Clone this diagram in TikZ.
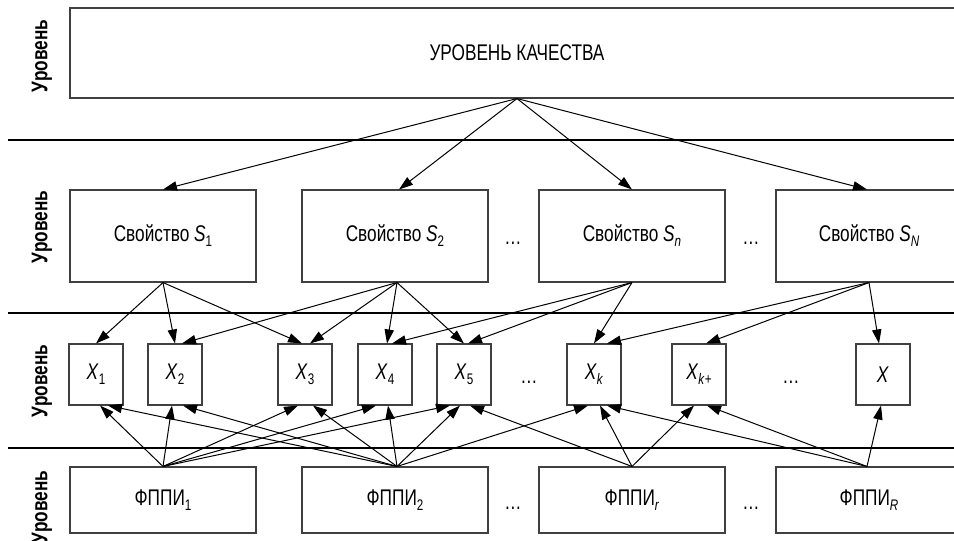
\documentclass[tikz,border=0pt]{standalone}
\usepackage{fontspec}
\setmainfont{Liberation Sans}[FakeStretch=0.76]
\usetikzlibrary{arrows.meta}
\newcommand{\lsub}[1]{\raisebox{-3.8pt}{\fontsize{11.5}{13}\selectfont #1}}
\begin{document}
\begin{tikzpicture}[x=0.75pt,y=-0.75pt,
  font=\fontsize{17}{20}\selectfont,
  bigbox/.style={draw=black!75, line width=0.8pt, inner sep=0pt, minimum width=670.5pt, minimum height=67.5pt},
  sbox/.style={draw=black!75, line width=0.8pt, inner sep=0pt, minimum width=139.5pt, minimum height=69pt},
  xbox/.style={draw=black!75, line width=0.8pt, inner sep=0pt, minimum width=40.5pt, minimum height=45.75pt},
  fbox/.style={draw=black!75, line width=0.8pt, inner sep=0pt, minimum width=139.5pt, minimum height=49.5pt},
  lvl/.style={rotate=90, inner sep=0pt, font=\fontsize{17}{20}\selectfont\bfseries},
  dots/.style={anchor=base, inner sep=0pt},
  sep/.style={line width=2.2pt, black},
  arr/.style={line width=0.75pt, -{Triangle[length=10.5pt,width=7pt]}}]
\useasboundingbox (0,0) rectangle (954,540);
\clip (0,0) rectangle (954,540);
% separators
\draw[sep] (8,140) -- (980,140);
\draw[sep] (8,313) -- (980,313);
\draw[sep] (8,448) -- (980,448);
% level labels
\node[lvl] (L1) at (42,56) {Уровень};
\node[lvl] (L2) at (42,227) {Уровень};
\node[lvl] (L3) at (42,381) {Уровень};
\node[lvl] (L4) at (42,507) {Уровень};
% top
\node[bigbox] (Q) at (517,53) {УРОВЕНЬ КАЧЕСТВА};
% properties
\node[sbox] (S1) at (163,236) {Свойство \textit{S}\lsub{1}};
\node[sbox] (S2) at (395,236) {Свойство \textit{S}\lsub{2}};
\node[sbox] (Sn) at (632,236) {Свойство \textit{S}\lsub{\textit{n}}};
\node[sbox] (SN) at (869,236) {Свойство \textit{S}\lsub{\textit{N}}};
\node[dots] (d1) at (513,244) {…};
\node[dots] (d2) at (751,244) {…};
% X row
\node[xbox] (X1) at (96,374.5) {\textit{X}\lsub{1}};
\node[xbox] (X2) at (175,374.5) {\textit{X}\lsub{2}};
\node[xbox] (X3) at (305,374.5) {\textit{X}\lsub{3}};
\node[xbox] (X4) at (385,374.5) {\textit{X}\lsub{4}};
\node[xbox] (X5) at (464,374.5) {\textit{X}\lsub{5}};
\node[xbox] (Xk) at (594,374.5) {\textit{X}\lsub{\textit{k}}};
\node[xbox] (Xkp) at (699,374.5) {\textit{X}\lsub{\textit{k}+}};
\node[xbox] (XX) at (883,374.5) {\textit{X}};
\node[dots] (d3) at (529,383) {…};
\node[dots] (d4) at (791,383) {…};
% bottom row
\node[fbox] (F1) at (163,500) {ФППИ\lsub{1}};
\node[fbox] (F2) at (395,500) {ФППИ\lsub{2}};
\node[fbox] (Fr) at (632,500) {ФППИ\lsub{\textit{r}}};
\node[fbox] (FR) at (869,500) {ФППИ\lsub{\textit{R}}};
\node[dots] (d5) at (513,509) {…};
\node[dots] (d6) at (751,509) {…};
% top to properties
\draw[arr] (Q.south) -- (S1.north);
\draw[arr] (Q.south) -- ([xshift=3pt]S2.north);
\draw[arr] (Q.south) -- (Sn.north);
\draw[arr] (Q.south) -- ([xshift=-1.5pt]SN.north);
% properties to X
\draw[arr] (S1.south) -- (X1.north);
\draw[arr] (S1.south) -- (X2.north);
\draw[arr] (S1.south) -- ([xshift=-2.25pt]X3.north);
\draw[arr] ([xshift=1.5pt]S2.south) -- ([xshift=5.25pt]X2.north);
\draw[arr] ([xshift=1.5pt]S2.south) -- ([xshift=3.75pt]X3.north);
\draw[arr] ([xshift=1.5pt]S2.south) -- ([xshift=1.5pt]X4.north);
\draw[arr] ([xshift=1.5pt]S2.south) -- (X5.north);
\draw[arr] (Sn.south) -- ([xshift=5.25pt]X4.north);
\draw[arr] (Sn.south) -- ([xshift=3pt]X5.north);
\draw[arr] (Sn.south) -- (Xk.north);
\draw[arr] (SN.south) -- ([xshift=9.75pt]Xk.north);
\draw[arr] (SN.south) -- ([xshift=5.25pt]Xkp.north);
\draw[arr] (SN.south) -- ([xshift=-3pt]XX.north);
% bottom to X
\draw[arr] (F1.north) -- ([xshift=3pt]X1.south);
\draw[arr] (F1.north) -- ([xshift=-2.25pt]X2.south);
\draw[arr] (F1.north) -- ([xshift=-5.25pt]X3.south);
\draw[arr] (F1.north) -- ([xshift=-6.75pt]X4.south);
\draw[arr] (F1.north) -- ([xshift=-10.5pt]X5.south);
\draw[arr] ([xshift=1.5pt]F2.north) -- ([xshift=9pt]X1.south);
\draw[arr] ([xshift=1.5pt]F2.north) -- ([xshift=6pt]X2.south);
\draw[arr] ([xshift=1.5pt]F2.north) -- ([xshift=6pt]X3.south);
\draw[arr] ([xshift=1.5pt]F2.north) -- ([xshift=2.25pt]X4.south);
\draw[arr] ([xshift=1.5pt]F2.north) -- ([xshift=-3pt]X5.south);
\draw[arr] ([xshift=1.5pt]F2.north) -- ([xshift=-4.5pt]Xk.south);
\draw[arr] (Fr.north) -- ([xshift=4.5pt]X5.south);
\draw[arr] (Fr.north) -- ([xshift=4.5pt]Xk.south);
\draw[arr] (Fr.north) -- ([xshift=-3.75pt]Xkp.south);
\draw[arr] ([xshift=-1.5pt]FR.north) -- ([xshift=9.75pt]Xk.south);
\draw[arr] ([xshift=-1.5pt]FR.north) -- ([xshift=6pt]Xkp.south);
\draw[arr] ([xshift=-1.5pt]FR.north) -- ([xshift=-1.5pt]XX.south);
\end{tikzpicture}
\end{document}
